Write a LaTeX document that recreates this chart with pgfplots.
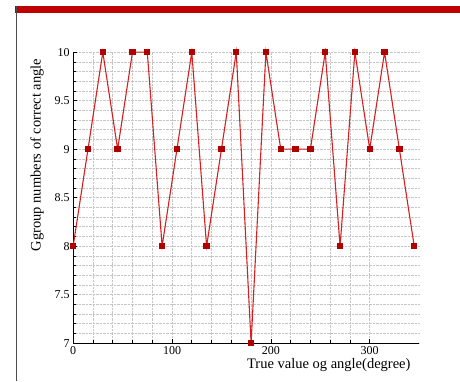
\documentclass[border=0pt]{standalone}
\usepackage{pgfplots}
\pgfplotsset{compat=1.18}
\usepackage{fontspec}
\setmainfont{Liberation Serif}
\definecolor{lred}{HTML}{D42020}
\definecolor{mred}{HTML}{B00000}
\definecolor{band}{HTML}{C00000}
\begin{document}
\begin{tikzpicture}[x=1pt,y=1pt]
\path[use as bounding box] (0,0) rectangle (460,381);
\fill[band] (15,368) rectangle (460,375);
\draw[black!70,line width=0.8pt] (16,0) -- (16,375);
\begin{axis}[
  at={(74,39)}, anchor=south west,
  scale only axis, width=346pt, height=291pt,
  xmin=0, xmax=350, ymin=7, ymax=10,
  axis lines=left, axis line style={-,black,line width=0.8pt},
  xtick={0,100,200,300},
  ytick={7,7.5,8,8.5,9,9.5,10},
  yticklabels={7,7.5,8,8.5,9,9.5,10},
  minor x tick num=4, minor y tick num=4,
  tick align=inside,
  major tick length=4pt, minor tick length=3pt,
  tick style={black,line width=0.6pt},
  grid=both,
  major grid style={gray!45,densely dotted,line width=0.7pt},
  minor grid style={gray!45,densely dotted,line width=0.7pt},
  ticklabel style={font=\fontsize{12}{14}\selectfont},
  /pgf/number format/assume math mode=true,
  clip=false,
]
\addplot[lred,line width=1.1pt,mark=square*,mark size=2.6pt,mark options={mred,fill=mred}] coordinates {
(0,8)(15,9)(30,10)(45,9)(60,10)(75,10)(90,8)(105,9)(120,10)(135,8)(150,9)(165,10)
(180,7)(195,10)(210,9)(225,9)(240,9)(255,10)(270,8)(285,10)(300,9)(315,10)(330,9)(345,8)
};
\end{axis}
\node[rotate=90,font=\fontsize{14.5}{16}\selectfont,anchor=center] at (37,226) {Ggroup numbers of correct angle};
\node[font=\fontsize{14.5}{16}\selectfont,anchor=base east] at (414,13) {True value og angle(degree)};
\end{tikzpicture}
\end{document}
